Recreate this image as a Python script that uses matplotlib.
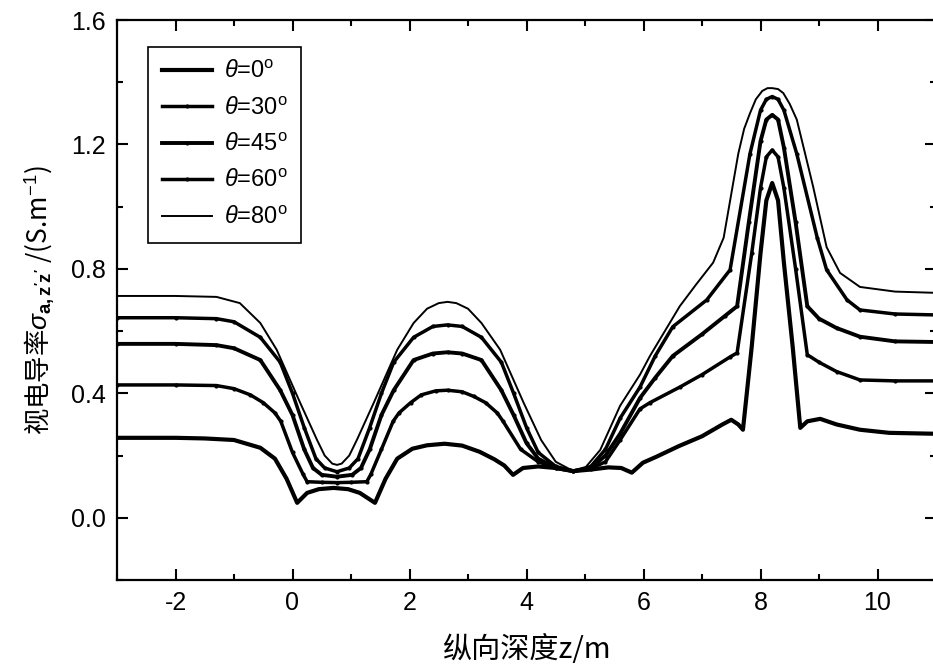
import numpy as np
import matplotlib.pyplot as plt
from matplotlib.ticker import MultipleLocator, FormatStrFormatter

plt.rcParams['font.family'] = ['Liberation Sans', 'Noto Sans CJK SC', 'DejaVu Sans']
plt.rcParams['mathtext.fontset'] = 'custom'
plt.rcParams['mathtext.rm'] = 'Liberation Sans'
plt.rcParams['mathtext.it'] = 'Liberation Sans:italic'
plt.rcParams['mathtext.bf'] = 'Liberation Sans:bold'
plt.rcParams['axes.unicode_minus'] = False

# curves: depth z (m) and apparent conductivity (S/m)
x0 = [-3, -2, -1.5, -1, -0.55, -0.3, -0.1, 0.08, 0.25, 0.45, 0.7, 0.95, 1.15, 1.41,
      1.59, 1.79, 2.05, 2.3, 2.6, 2.9, 3.2, 3.45, 3.62, 3.77, 3.94, 4.2, 4.5, 4.8,
      5.1, 5.4, 5.62, 5.8, 5.99, 6.23, 6.6, 7.0, 7.35, 7.5, 7.62, 7.7, 7.85, 8.0,
      8.1, 8.2, 8.3, 8.4, 8.55, 8.68, 8.8, 9.02, 9.3, 9.7, 10.2, 11]
y0 = [0.257, 0.257, 0.255, 0.25, 0.225, 0.19, 0.125, 0.048, 0.08, 0.092, 0.096, 0.092,
      0.08, 0.048, 0.125, 0.19, 0.222, 0.233, 0.238, 0.232, 0.212, 0.188, 0.168, 0.138,
      0.16, 0.165, 0.16, 0.15, 0.155, 0.162, 0.16, 0.145, 0.177, 0.197, 0.23, 0.262,
      0.3, 0.315, 0.3, 0.283, 0.55, 0.85, 1.02, 1.076, 1.02, 0.82, 0.55, 0.289, 0.31,
      0.318, 0.3, 0.283, 0.273, 0.27]

x30 = [-3, -2, -1.3, -1, -0.72, -0.5, -0.3, -0.2, 0.0, 0.18, 0.25, 0.5, 0.76, 1.0,
       1.27, 1.34, 1.52, 1.72, 1.82, 2.02, 2.2, 2.45, 2.65, 2.9, 3.1, 3.3, 3.5, 3.6,
       3.9, 4.2, 4.5, 4.8, 5.1, 5.35, 5.6, 5.94, 6.11, 6.62, 7.0, 7.48, 7.6, 7.85,
       8.0, 8.1, 8.2, 8.3, 8.4, 8.6, 8.8, 9.0, 9.3, 9.7, 10.3, 11]
y30 = [0.427, 0.427, 0.425, 0.415, 0.395, 0.37, 0.337, 0.31, 0.21, 0.14, 0.116, 0.114,
       0.113, 0.114, 0.116, 0.14, 0.22, 0.31, 0.337, 0.37, 0.395, 0.408, 0.41, 0.405,
       0.39, 0.37, 0.337, 0.31, 0.22, 0.18, 0.16, 0.15, 0.158, 0.18, 0.25, 0.35, 0.37,
       0.42, 0.46, 0.517, 0.53, 0.85, 1.06, 1.16, 1.182, 1.16, 1.06, 0.8, 0.524, 0.5,
       0.47, 0.443, 0.44, 0.44]

x45 = [-3, -2, -1.3, -1, -0.55, -0.21, 0.0, 0.2, 0.35, 0.5, 0.76, 1.02, 1.17, 1.32,
       1.52, 1.73, 2.07, 2.4, 2.65, 2.9, 3.23, 3.57, 3.78, 4.0, 4.2, 4.5, 4.8, 5.1,
       5.35, 5.6, 5.94, 6.2, 6.5, 7.0, 7.4, 7.6, 7.8, 8.0, 8.1, 8.2, 8.3, 8.4, 8.6,
       8.8, 9.0, 9.3, 9.7, 10.3, 11]
y45 = [0.559, 0.559, 0.555, 0.545, 0.507, 0.41, 0.33, 0.22, 0.16, 0.138, 0.132, 0.138,
       0.16, 0.22, 0.33, 0.41, 0.507, 0.528, 0.532, 0.528, 0.507, 0.41, 0.33, 0.24,
       0.19, 0.16, 0.15, 0.16, 0.2, 0.27, 0.385, 0.45, 0.52, 0.59, 0.65, 0.68, 0.95,
       1.21, 1.28, 1.295, 1.28, 1.19, 0.95, 0.68, 0.64, 0.61, 0.582, 0.567, 0.565]

x60 = [-3, -2, -1.3, -1, -0.55, -0.21, 0.0, 0.2, 0.4, 0.55, 0.76, 0.97, 1.12, 1.32,
       1.52, 1.73, 2.07, 2.4, 2.65, 2.9, 3.23, 3.57, 3.78, 4.0, 4.2, 4.5, 4.8, 5.1,
       5.35, 5.6, 5.94, 6.2, 6.5, 7.08, 7.48, 7.82, 8.0, 8.1, 8.2, 8.3, 8.4, 8.62,
       8.97, 9.13, 9.48, 9.7, 10.3, 11]
y60 = [0.643, 0.643, 0.64, 0.63, 0.58, 0.5, 0.40, 0.29, 0.19, 0.16, 0.148, 0.16, 0.19,
       0.29, 0.40, 0.5, 0.58, 0.615, 0.62, 0.615, 0.58, 0.5, 0.4, 0.29, 0.21, 0.165,
       0.15, 0.165, 0.22, 0.32, 0.42, 0.52, 0.614, 0.70, 0.797, 1.17, 1.31, 1.345,
       1.354, 1.345, 1.31, 1.17, 0.90, 0.797, 0.70, 0.668, 0.655, 0.652]

x80 = [-3, -2, -1.3, -0.9, -0.55, -0.27, 0.13, 0.42, 0.55, 0.68, 0.76, 0.84, 0.97,
       1.1, 1.39, 1.79, 2.07, 2.3, 2.5, 2.65, 2.8, 3.0, 3.23, 3.55, 3.95, 4.25, 4.5,
       4.8, 5.0, 5.26, 5.6, 5.94, 6.11, 6.62, 6.9, 7.19, 7.37, 7.62, 7.72, 7.82, 7.92,
       8.03, 8.12, 8.2, 8.3, 8.39, 8.5, 8.62, 8.75, 8.9, 9.13, 9.36, 9.7, 10.3, 11]
y80 = [0.713, 0.713, 0.71, 0.69, 0.626, 0.54, 0.37, 0.25, 0.2, 0.174, 0.17, 0.174,
       0.2, 0.25, 0.37, 0.54, 0.626, 0.672, 0.69, 0.694, 0.69, 0.672, 0.626, 0.54,
       0.37, 0.25, 0.18, 0.15, 0.16, 0.218, 0.36, 0.46, 0.52, 0.68, 0.75, 0.82, 0.90,
       1.17, 1.25, 1.3, 1.345, 1.372, 1.381, 1.381, 1.378, 1.365, 1.33, 1.28, 1.18,
       1.064, 0.87, 0.787, 0.742, 0.727, 0.723]

labels = [r'$\theta$=0$^{\rm o}$', r'$\theta$=30$^{\rm o}$', r'$\theta$=45$^{\rm o}$',
          r'$\theta$=60$^{\rm o}$', r'$\theta$=80$^{\rm o}$']

fig = plt.figure(figsize=(9.33, 6.7), dpi=100)
ax = fig.add_axes([117 / 933, 90 / 670, 819 / 933, 560 / 670])

ax.plot(x0, y0, color='black', lw=3.0, label=labels[0])
ax.plot(x30, y30, color='black', lw=2.5, marker='.', ms=4, label=labels[1])
ax.plot(x45, y45, color='black', lw=2.8, marker='.', ms=4, label=labels[2])
ax.plot(x60, y60, color='black', lw=2.5, marker='.', ms=4, label=labels[3])
ax.plot(x80, y80, color='black', lw=1.4, label=labels[4])

ax.set_xlim(-3, 11)
ax.set_ylim(-0.2, 1.6)
ax.xaxis.set_major_locator(MultipleLocator(2))
ax.xaxis.set_minor_locator(MultipleLocator(1))
ax.yaxis.set_major_locator(MultipleLocator(0.4))
ax.yaxis.set_minor_locator(MultipleLocator(0.2))
ax.yaxis.set_major_formatter(FormatStrFormatter('%.1f'))
ax.tick_params(which='both', direction='in', top=True, right=True, width=1.5,
               labelsize=18)
ax.tick_params(which='major', length=8, pad=8)
ax.tick_params(which='minor', length=4)
for s in ax.spines.values():
    s.set_linewidth(1.6)

ax.set_xlabel('纵向深度z/m', fontsize=21, family=['Noto Sans CJK SC', 'DejaVu Sans'],
              labelpad=14)
ax.set_ylabel(r"视电导率$\sigma_{\mathbf{a,z'z'}}$ /(S.m$^{-1}$)", fontsize=19,
              family=['Noto Sans CJK SC', 'DejaVu Sans'], labelpad=10)

leg = ax.legend(loc='upper left', bbox_to_anchor=(148 / 933, 1 - 47 / 670),
                bbox_transform=fig.transFigure, borderaxespad=0, fancybox=False,
                edgecolor='black', fontsize=17, handlelength=2.1, handletextpad=0.5,
                labelspacing=0.6, numpoints=1, framealpha=1, borderpad=0.6)
leg.get_frame().set_linewidth(1.2)

fig.savefig('out.png', dpi=100)
